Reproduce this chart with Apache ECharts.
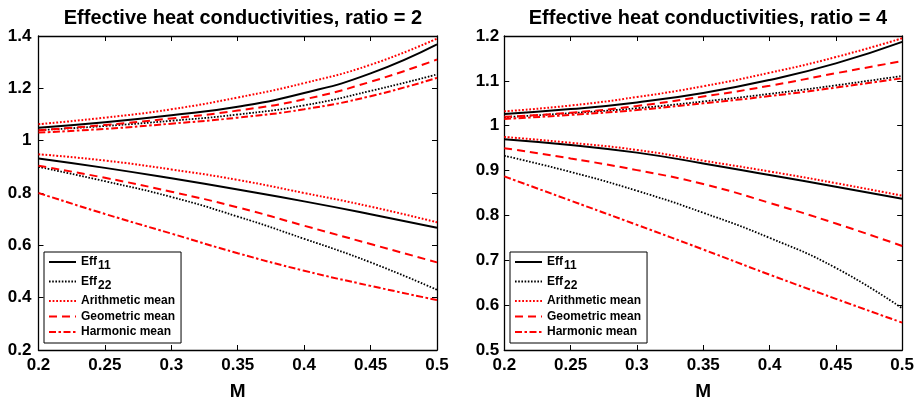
<!DOCTYPE html>
<html>
<head>
<meta charset="utf-8">
<script src="https://cdn.jsdelivr.net/npm/echarts@6/dist/echarts.min.js"></script>
<style>
  html, body { margin: 0; padding: 0; background: #fff; }
  #chart { width: 917px; height: 407px; }
</style>
</head>
<body>
<div id="chart"></div>
<script>
// Volume parameter M (x axis) shared by both panels
const mValues = [0.2, 0.25, 0.3, 0.35, 0.4, 0.45, 0.5];

// Panel 1: conductivity ratio = 2 (upper and lower branches)
const r2Eff11Upper = [1.049, 1.070, 1.097, 1.130, 1.182, 1.257, 1.368];
const r2Eff22Upper = [1.040, 1.056, 1.076, 1.100, 1.135, 1.190, 1.253];
const r2ArithUpper = [1.063, 1.088, 1.120, 1.165, 1.220, 1.290, 1.390];
const r2GeomUpper  = [1.040, 1.060, 1.085, 1.115, 1.158, 1.225, 1.310];
const r2HarmUpper  = [1.031, 1.045, 1.065, 1.088, 1.120, 1.170, 1.240];

const r2Eff11Lower = [0.932, 0.896, 0.856, 0.813, 0.768, 0.719, 0.667];
const r2Eff22Lower = [0.900, 0.845, 0.785, 0.710, 0.625, 0.535, 0.430];
const r2ArithLower = [0.948, 0.924, 0.890, 0.850, 0.800, 0.748, 0.688];
const r2GeomLower  = [0.904, 0.858, 0.805, 0.745, 0.675, 0.605, 0.535];
const r2HarmLower  = [0.800, 0.720, 0.645, 0.570, 0.503, 0.445, 0.391];

// Panel 2: conductivity ratio = 4
const r4Eff11Upper = [1.026, 1.037, 1.052, 1.073, 1.102, 1.139, 1.187];
const r4Eff22Upper = [1.019, 1.028, 1.039, 1.054, 1.071, 1.090, 1.111];
const r4ArithUpper = [1.032, 1.045, 1.064, 1.088, 1.118, 1.153, 1.195];
const r4GeomUpper  = [1.020, 1.029, 1.044, 1.065, 1.089, 1.117, 1.144];
const r4HarmUpper  = [1.015, 1.024, 1.035, 1.050, 1.066, 1.085, 1.106];

const r4Eff11Lower = [0.970, 0.957, 0.940, 0.916, 0.890, 0.864, 0.837];
const r4Eff22Lower = [0.933, 0.897, 0.855, 0.806, 0.750, 0.683, 0.593];
const r4ArithLower = [0.975, 0.962, 0.946, 0.922, 0.898, 0.872, 0.844];
const r4GeomLower  = [0.950, 0.927, 0.901, 0.870, 0.828, 0.782, 0.732];
const r4HarmLower  = [0.887, 0.833, 0.779, 0.724, 0.668, 0.614, 0.561];

const panelTitles = ['Effective heat conductivities, ratio = 2',
                     'Effective heat conductivities, ratio = 4'];
const legendNames = ['Eff11', 'Eff22', 'Arithmetic mean', 'Geometric mean', 'Harmonic mean'];
const xTitle = 'M';

const FONT = 'Liberation Sans, Arial, Helvetica, sans-serif';
const RED = '#ff0000';
const BLACK = '#000000';

const styles = {
  'Eff11':           { color: BLACK, width: 2,   type: 'solid' },
  'Eff22':           { color: BLACK, width: 1.8, type: [1.6, 1.6] },
  'Arithmetic mean': { color: RED,   width: 2,   type: [1.8, 1.8] },
  'Geometric mean':  { color: RED,   width: 2,   type: [8, 5] },
  'Harmonic mean':   { color: RED,   width: 2,   type: [7, 2.5, 2.5, 2.5] }
};

function pairs(ys) { return mValues.map((m, i) => [m, ys[i]]); }

function makeSeries(name, ys, gi) {
  const s = styles[name];
  return {
    type: 'line', name: name, data: pairs(ys),
    xAxisIndex: gi * 2, yAxisIndex: gi * 2,
    showSymbol: false, symbol: 'none',
    smooth: 0.5,
    lineStyle: { color: s.color, width: s.width, type: s.type },
    itemStyle: { color: s.color },
    z: 3, silent: true
  };
}

const panels = [
  { Eff11: [r2Eff11Upper, r2Eff11Lower], Eff22: [r2Eff22Upper, r2Eff22Lower],
    'Arithmetic mean': [r2ArithUpper, r2ArithLower], 'Geometric mean': [r2GeomUpper, r2GeomLower],
    'Harmonic mean': [r2HarmUpper, r2HarmLower] },
  { Eff11: [r4Eff11Upper, r4Eff11Lower], Eff22: [r4Eff22Upper, r4Eff22Lower],
    'Arithmetic mean': [r4ArithUpper, r4ArithLower], 'Geometric mean': [r4GeomUpper, r4GeomLower],
    'Harmonic mean': [r4HarmUpper, r4HarmLower] }
];

const series = [];
panels.forEach((p, gi) => {
  legendNames.forEach(n => {
    series.push(makeSeries(n, p[n][0], gi));
    series.push(makeSeries(n, p[n][1], gi));
  });
});

const grids = [
  { left: 38.5, right: 480, top: 36, bottom: 57 },
  { left: 504.3, right: 14.7, top: 36, bottom: 57 }
];
const yRanges = [ { min: 0.2, max: 1.4, interval: 0.2 }, { min: 0.5, max: 1.2, interval: 0.1 } ];

const axisLine = { show: true, onZero: false, lineStyle: { color: BLACK, width: 1.3 } };
const axisTick = { show: true, inside: true, length: 5, lineStyle: { color: BLACK, width: 1 } };
const labelStyle = { color: BLACK, fontFamily: FONT, fontWeight: 'bold', fontSize: 17 };

const xAxes = [], yAxes = [];
grids.forEach((g, gi) => {
  const xBase = { type: 'value', gridIndex: gi, min: 0.2, max: 0.5, interval: 0.05,
                  axisLine: axisLine, axisTick: axisTick, splitLine: { show: false } };
  xAxes.push(Object.assign({}, xBase, {
    position: 'bottom',
    axisLabel: Object.assign({ margin: 7 }, labelStyle),
    name: xTitle, nameLocation: 'middle', nameGap: 32,
    nameTextStyle: { color: BLACK, fontFamily: FONT, fontWeight: 'bold', fontSize: 19 }
  }));
  xAxes.push(Object.assign({}, xBase, { position: 'top', axisLabel: { show: false } }));
  const yBase = { type: 'value', gridIndex: gi, min: yRanges[gi].min, max: yRanges[gi].max,
                  interval: yRanges[gi].interval,
                  axisLine: axisLine, axisTick: axisTick, splitLine: { show: false } };
  yAxes.push(Object.assign({}, yBase, {
    position: 'left',
    axisLabel: Object.assign({ margin: gi === 0 ? 7 : 5 }, labelStyle)
  }));
  yAxes.push(Object.assign({}, yBase, { position: 'right', axisLabel: { show: false } }));
});

function legendFor(left, top) {
  return {
    orient: 'vertical', left: left, top: top,
    data: legendNames,
    itemWidth: 27, itemHeight: 12, itemGap: 3.5,
    padding: [4, 6, 5, 4],
    borderColor: BLACK, borderWidth: 1, backgroundColor: '#fff',
    selectedMode: false,
    itemStyle: { opacity: 0, color: 'transparent', borderWidth: 0 },
    formatter: function (name) {
      if (name === 'Eff11') return '{b|Eff}{s|11}';
      if (name === 'Eff22') return '{b|Eff}{s|22}';
      return '{b|' + name + '}';
    },
    textStyle: {
      color: BLACK, fontFamily: FONT, fontWeight: 'bold', fontSize: 12,
      rich: {
        b: { color: BLACK, fontFamily: FONT, fontWeight: 'bold', fontSize: 12 },
        s: { color: BLACK, fontFamily: FONT, fontWeight: 'bold', fontSize: 12, padding: [8, 0, 0, 1] }
      }
    }
  };
}

const option = {
  animation: false,
  backgroundColor: '#fff',
  title: panelTitles.map((t, i) => ({
    text: t,
    left: i === 0 ? 238 : 703, top: 3, textAlign: 'center',
    textStyle: { color: BLACK, fontFamily: FONT, fontWeight: 'bold', fontSize: 20 }
  })),
  legend: [legendFor(44, 252), legendFor(510, 252)],
  grid: grids,
  xAxis: xAxes,
  yAxis: yAxes,
  series: series
};

const chart = echarts.init(document.getElementById('chart'), null, { renderer: 'canvas' });
chart.setOption(option);
</script>
</body>
</html>
